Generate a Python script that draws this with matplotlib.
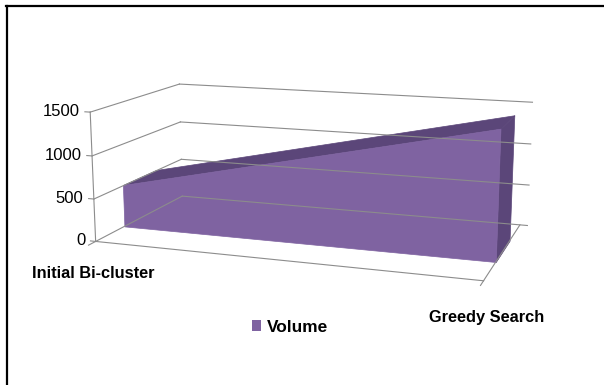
import matplotlib
matplotlib.use("Agg")
from matplotlib import pyplot as plt
from matplotlib.patches import Patch
from mpl_toolkits.mplot3d.art3d import Poly3DCollection

categories = ["Initial Bi-cluster", "Greedy Search"]
volume = [510, 1460]
z_ticks = [0, 500, 1000, 1500]
series_name = "Volume"

FRONT = "#7f63a1"
DARK = "#5b4679"
GRID = "#8c8c8c"


def main():
    plt.rcParams["font.family"] = ["Liberation Sans", "DejaVu Sans"]
    fig = plt.figure(figsize=(6.04, 3.85), dpi=100)
    ax = fig.add_axes([-0.012, -0.08, 1.04, 1.24], projection="3d")
    ax.set_proj_type("persp", focal_length=0.45)
    ax.view_init(elev=12.5, azim=-71)
    ax.set_box_aspect((388, 200, 130), zoom=0.92)
    ax.set_xticks([])
    ax.set_yticks([])
    ax.set_zticks([])
    ax.set_axis_off()
    ax.computed_zorder = False

    n = len(categories)
    xs = list(range(n))
    x0, x1 = xs[0], xs[-1]
    zmax = z_ticks[-1]
    ax.set_xlim(x0, x1)
    ax.set_ylim(0, 1)
    ax.set_zlim(0, zmax)

    # walls: gridlines on side wall and back wall
    for z in z_ticks:
        ax.plot([x0, x0], [0, 1], [z, z], color=GRID, lw=0.8)
        ax.plot([x0, x1 + 0.02], [1, 1], [z, z], color=GRID, lw=0.8)
        ax.plot([x0, x0 - 0.015], [0, 0], [z, z], color=GRID, lw=0.8)
        ax.text(x0 - 0.03, 0, z, str(z), ha="right", va="center", fontsize=12)
    ax.plot([x0, x0], [0, 0], [0, zmax], color=GRID, lw=0.8)
    # floor
    ax.plot([x0, x1], [0, 0], [0, 0], color=GRID, lw=0.8)
    ax.plot([x1, x1], [0, 1], [0, 0], color=GRID, lw=0.8)
    for x in xs:
        ax.plot([x, x], [0, -0.07], [0, 0], color=GRID, lw=0.8)

    # the area with depth
    d0, d1 = 0.3, 0.68
    front = [(x, d0, 0) for x in xs[::-1]] + [(x, d0, v) for x, v in zip(xs, volume)]
    top = [(x, d0, v) for x, v in zip(xs, volume)] + [
        (x, d1, v) for x, v in zip(xs[::-1], volume[::-1])
    ]
    side = [(x1, d0, 0), (x1, d1, 0), (x1, d1, volume[-1]), (x1, d0, volume[-1])]
    ax.add_collection3d(Poly3DCollection([top], facecolor=DARK, edgecolor=DARK, lw=0.5))
    ax.add_collection3d(Poly3DCollection([side], facecolor=DARK, edgecolor=DARK, lw=0.5))
    ax.add_collection3d(Poly3DCollection([front], facecolor=FRONT, edgecolor=FRONT, lw=0.5))

    # category labels
    ax.text(x0 + 0.025, -0.12, -290, categories[0], ha="center", va="center",
            fontsize=11.8, fontweight="bold")
    ax.text(x1 + 0.02, -0.12, -290, categories[1], ha="center", va="center",
            fontsize=11.8, fontweight="bold")

    fig.legend(handles=[Patch(facecolor=FRONT, label=series_name)],
               loc="center", bbox_to_anchor=(0.48, 0.15), frameon=False,
               handlelength=0.55, handleheight=0.55, handletextpad=0.3,
               prop={"weight": "bold", "size": 12.4})

    # chart border (top and left edges visible)
    fig.add_artist(plt.Line2D([0.01, 1.0], [0.984, 0.984], color="black", lw=1.6))
    fig.add_artist(plt.Line2D([0.011, 0.011], [0.0, 0.984], color="black", lw=1.6))

    fig.savefig("out.png", dpi=100)


if __name__ == "__main__":
    main()
